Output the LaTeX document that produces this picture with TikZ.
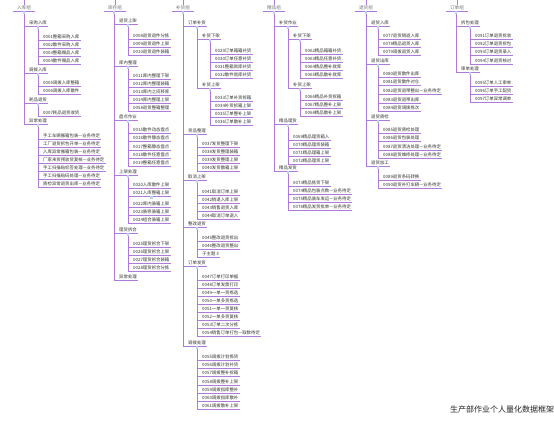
\documentclass[tikz,border=0pt]{standalone}
\usepackage{fontspec}
\setmainfont{Noto Sans CJK SC}
\definecolor{lnc}{HTML}{B07AD8}
\definecolor{mkc}{HTML}{B9D3F2}
\definecolor{txc}{HTML}{333333}
\tikzset{
 x=1pt,y=-1pt,
 ln/.style={draw=lnc, line width=0.7pt},
 itm/.style={anchor=south west, inner xsep=1pt, inner ysep=0.7pt, font=\fontsize{4.4}{5}\selectfont, text=txc, text height=3.4pt, text depth=0.5pt},
 rootn/.style={anchor=south, inner xsep=4pt, inner ysep=0.7pt, font=\fontsize{4.6}{5}\selectfont, text=black!55, text height=3.4pt, text depth=0.5pt},
 titlen/.style={anchor=west, inner sep=0pt, font=\fontsize{8}{9}\selectfont, text=black!85},
}
\newcommand\mm[5]{%
  \node[itm] (#1) at (#3+4,#4) {#5};
  \coordinate (c#1) at (#3,0);
  \draw[ln] (#2.south -| c#1) |- (#1.south east);
}
\newcommand\mk[2]{%
  \coordinate (m#1) at (#2,0);
  \fill[mkc] (#1.south -| m#1) ++(-1.3,0.4) rectangle ++(2.6,2.6);
}
\newcommand\rt[3]{%
  \node[rootn] (#1) at (#2,11) {#3};
  \draw[ln] (#1.south west) -- (#1.south east);
  \draw[ln] (#1.north) -- (#1.north |- top);
}
\begin{document}
\begin{tikzpicture}
\fill[white] (0,0) rectangle (554,422);
\useasboundingbox (0,0) rectangle (554,422);
\coordinate (top) at (0,0);

% ---------- column 1
\rt{r1}{24}{入库组}
\mm{a1}{r1}{24}{26}{采购入库}
\mm{n0001}{a1}{38}{40}{0001整箱采购入库}
\mm{n0002}{a1}{38}{48}{0002散件采购入库}
\mm{n0003}{a1}{38}{56}{0003整箱赠品入库}
\mm{n0004}{a1}{38}{64}{0004散件赠品入库}
\mm{a2}{r1}{24}{73}{调拨入库}
\mm{n0005}{a2}{38}{86}{0005调拨入库整箱}
\mm{n0006}{a2}{38}{94}{0006调拨入库散件}
\mm{a3}{r1}{24}{103}{耗品退货}
\mm{n0007}{a3}{38}{116}{0007耗品退货收货}
\mm{a4}{r1}{24}{124}{异常处理}
\mm{x01}{a4}{38}{139}{手工车辆搬箱包装—业务待定}
\mm{x02}{a4}{38}{147}{工厂退货拆包开单—业务待定}
\mm{x03}{a4}{38}{155}{入库异常搬箱包装—业务待定}
\mm{x04}{a4}{38}{163}{厂家来货预收货复核—业务待定}
\mm{x05}{a4}{38}{171}{手工扫描贴标签处理—业务待定}
\mm{x06}{a4}{38}{179}{手工扫描贴码处理—业务待定}
\mm{x07}{a4}{38}{187}{质检异常退货出库—业务待定}
\mk{r1}{24}\mk{a1}{38}\mk{a2}{38}\mk{a3}{38}\mk{a4}{38}

% ---------- column 2
\rt{r2}{115}{库存组}
\mm{b1}{r2}{114}{24}{退货上架}
\mm{n0008}{b1}{128}{39}{0008退货退件分拣}
\mm{n0009}{b1}{128}{47}{0009退货退件上架}
\mm{n0010}{b1}{128}{55}{0010退货退件装箱}
\mm{b2}{r2}{114}{66}{库内整理}
\mm{n0011}{b2}{128}{79}{0011库内整理下架}
\mm{n0012}{b2}{128}{87}{0012库内整理装箱}
\mm{n0013}{b2}{128}{95}{0013库内之间移库}
\mm{n0014}{b2}{128}{103}{0014库内整理上架}
\mm{n0058b}{b2}{128}{111}{0058退货整箱整理}
\mm{b3}{r2}{114}{120}{盘点作业}
\mm{n0015}{b3}{128}{133}{0015散件动态盘点}
\mm{n0016}{b3}{128}{141}{0016散件静态盘点}
\mm{n0017}{b3}{128}{150}{0017整箱静态盘点}
\mm{n0018}{b3}{128}{158}{0018散件任意盘点}
\mm{n0019}{b3}{128}{166}{0019整箱任意盘点}
\mm{b4}{r2}{114}{175}{上架处理}
\mm{n0020}{b4}{128}{188}{0020入库散件上架}
\mm{n0021}{b4}{128}{196}{0021入库整箱上架}
\mm{n0022}{b4}{128}{207}{0022库内装箱上架}
\mm{n0023}{b4}{128}{215}{0023装修装箱上架}
\mm{n0024}{b4}{128}{223}{0024组合装箱上架}
\mm{b5}{r2}{114}{233}{理货拆合}
\mm{n0025}{b5}{128}{247}{0025理货拆合下架}
\mm{n0026}{b5}{128}{255}{0026理货拆合上架}
\mm{n0027}{b5}{128}{263}{0027理货拆合装箱}
\mm{n0028}{b5}{128}{271}{0028理货拆合分拣}
\mm{b6}{r2}{114}{280}{异常处理}
\mk{r2}{114}\mk{b1}{128}\mk{b2}{128}\mk{b3}{128}\mk{b4}{128}\mk{b5}{128}
\fill[mkc] (n0021.south) ++(-1.3,0.4) rectangle ++(2.6,2.6);

% ---------- column 3
\rt{r3}{183}{补货组}
\mm{c1}{r3}{183}{26}{订单补货}
\mm{c11}{c1}{197}{39}{补货下架}
\mm{n0029}{c11}{210}{54}{0029订单箱箱补货}
\mm{n0030}{c11}{210}{62}{0030订单任意补货}
\mm{n0031}{c11}{210}{70}{0031整箱就库补货}
\mm{n0032}{c11}{210}{78}{0032散件就库补货}
\mm{c12}{c1}{197}{88}{补货上架}
\mm{n0033}{c12}{210}{101}{0033订单补货拆箱}
\mm{n0034}{c12}{210}{109}{0034补货拆箱上架}
\mm{n0035}{c12}{210}{117}{0035订单整补上架}
\mm{n0036}{c12}{210}{125}{0036订单散补上架}
\mm{c2}{r3}{183}{134}{货品整理}
\mm{n0037}{c2}{197}{147}{0037发货整理下架}
\mm{n0038}{c2}{197}{155}{0038发货整理装箱}
\mm{n0039}{c2}{197}{163}{0039发货整理上架}
\mm{n0040}{c2}{197}{171}{0040发货散箱上架}
\mm{c3}{r3}{183}{180}{取消上架}
\mm{n0041}{c3}{197}{195}{0041取消订单上架}
\mm{n0042}{c3}{197}{203}{0042销退入库上架}
\mm{n0043}{c3}{197}{211}{0043销售退货入库}
\mm{n0044}{c3}{197}{219}{0044取消订单退入}
\mm{c4}{r3}{183}{227}{整改退货}
\mm{n0045}{c4}{197}{241}{0045整改退货拆出}
\mm{n0046}{c4}{197}{249}{0046整改退货整出}
\mm{s3}{c4}{197}{257}{子主题 3}
\mm{c5}{r3}{183}{266}{订单发货}
\mm{n0047}{c5}{197}{280}{0047订单打印单据}
\mm{n0048}{c5}{197}{288}{0048订单发票打印}
\mm{n0049}{c5}{197}{296}{0049一单一货拣选}
\mm{n0050}{c5}{197}{304}{0050一单多货拣选}
\mm{n0051}{c5}{197}{312}{0051一单一货复核}
\mm{n0052}{c5}{197}{320}{0052一单多货复核}
\mm{n0053}{c5}{197}{328}{0053订单二次分拣}
\mm{n0054}{c5}{197}{336}{0054销售订单打包—取数待定}
\mm{c6}{r3}{183}{346}{调拨处理}
\mm{n0055}{c6}{197}{360}{0055调拨计划拣货}
\mm{n0056}{c6}{197}{368}{0056调拨计划补货}
\mm{n0057}{c6}{197}{376}{0057调拨整补拆箱}
\mm{n0058}{c6}{197}{385}{0058调拨整补上架}
\mm{n0059}{c6}{197}{393}{0059调拨指库整补}
\mm{n0060}{c6}{197}{401}{0060调拨指库散补}
\mm{n0061}{c6}{197}{409}{0061调拨散补上架}
\mk{r3}{183}\mk{c1}{197}\mk{c11}{210}\mk{c12}{210}\mk{c2}{197}\mk{c3}{197}\mk{c4}{197}\mk{c5}{197}\mk{c6}{197}

% ---------- column 4
\rt{r4}{274}{精品组}
\mm{d1}{r4}{274}{26}{补货作业}
\mm{d11}{d1}{288}{39}{补货下架}
\mm{n0062}{d11}{300}{54}{0062精品箱箱补货}
\mm{n0063}{d11}{300}{62}{0063精品任意补货}
\mm{n0064}{d11}{300}{70}{0064精品整补就库}
\mm{n0065}{d11}{300}{78}{0065精品散补就库}
\mm{d12}{d1}{288}{88}{补货上架}
\mm{n0066}{d12}{300}{100}{0066精品补货拆箱}
\mm{n0067}{d12}{300}{108}{0067精品整补上架}
\mm{n0068}{d12}{300}{116}{0068精品散补上架}
\mm{d2}{r4}{274}{124}{精品理货}
\mm{n0069}{d2}{288}{140}{0069精品理货箱入}
\mm{n0070}{d2}{288}{148}{0070精品理货装箱}
\mm{n0071}{d2}{288}{156}{0071精品理箱上架}
\mm{n0072}{d2}{288}{164}{0072精品理货上架}
\mm{d3}{r4}{274}{171}{精品发货}
\mm{n0073}{d3}{288}{186}{0073精品拣货下架}
\mm{n0074}{d3}{288}{194}{0074精品包装点数—业务待定}
\mm{n0075}{d3}{288}{202}{0075精品装车发运—业务待定}
\mm{n0076}{d3}{288}{210}{0076精品发货批单—业务待定}
\mk{r4}{274}\mk{d1}{288}\mk{d11}{300}\mk{d12}{300}\mk{d2}{288}\mk{d3}{288}

% ---------- column 5
\rt{r5}{366}{退货组}
\mm{e1}{r5}{366}{26}{退货入库}
\mm{n0077}{e1}{378}{39}{0077退货销退入库}
\mm{n0078}{e1}{378}{47}{0078精品退货入库}
\mm{n0079}{e1}{378}{55}{0079调拨退货入库}
\mm{e2}{r5}{366}{64}{退货出库}
\mm{n0080}{e2}{378}{77}{0080退货散件出库}
\mm{n0081}{e2}{378}{85}{0081退货散件对仓}
\mm{n0082}{e2}{378}{94}{0082退货退带整出—业务待定}
\mm{n0083}{e2}{378}{103}{0083退货退带出库}
\mm{n0084}{e2}{378}{111}{0084退货调拨拣次}
\mm{e3}{r5}{366}{120}{退货质检}
\mm{n0085}{e3}{378}{133}{0085退货质检处理}
\mm{n0086}{e3}{378}{141}{0086退货包装处理}
\mm{n0087}{e3}{378}{150}{0087退货清洁处理—业务待定}
\mm{n0088}{e3}{378}{158}{0088退货维修处理—业务待定}
\mm{e4}{r5}{366}{166}{退货加工}
\mm{n0089}{e4}{378}{180}{0089退货条码转换}
\mm{n0090}{e4}{378}{188}{0090退货补打车辆—业务待定}
\mk{r5}{366}\mk{e1}{378}\mk{e2}{378}\mk{e3}{378}\mk{e4}{378}

% ---------- column 6
\rt{r6}{457}{订单组}
\mm{f1}{r6}{456}{26}{拆包处理}
\mm{n0091}{f1}{470}{39}{0091订单退货拆收}
\mm{n0092}{f1}{470}{47}{0092订单退货拆包}
\mm{n0093}{f1}{470}{55}{0093订单退货录入}
\mm{n0094}{f1}{470}{64}{0094订单退货核对}
\mm{f2}{r6}{456}{72}{审单处理}
\mm{n0095}{f2}{470}{86}{0095订单人工审单}
\mm{n0096}{f2}{470}{94}{0096订单手工配货}
\mm{n0097}{f2}{470}{102}{0097订单异常调单}
\mk{r6}{456}\mk{f1}{470}\mk{f2}{470}

% ---------- title
\node[titlen] (title) at (450,409) {生产部作业个人量化数据框架};
\end{tikzpicture}
\end{document}
